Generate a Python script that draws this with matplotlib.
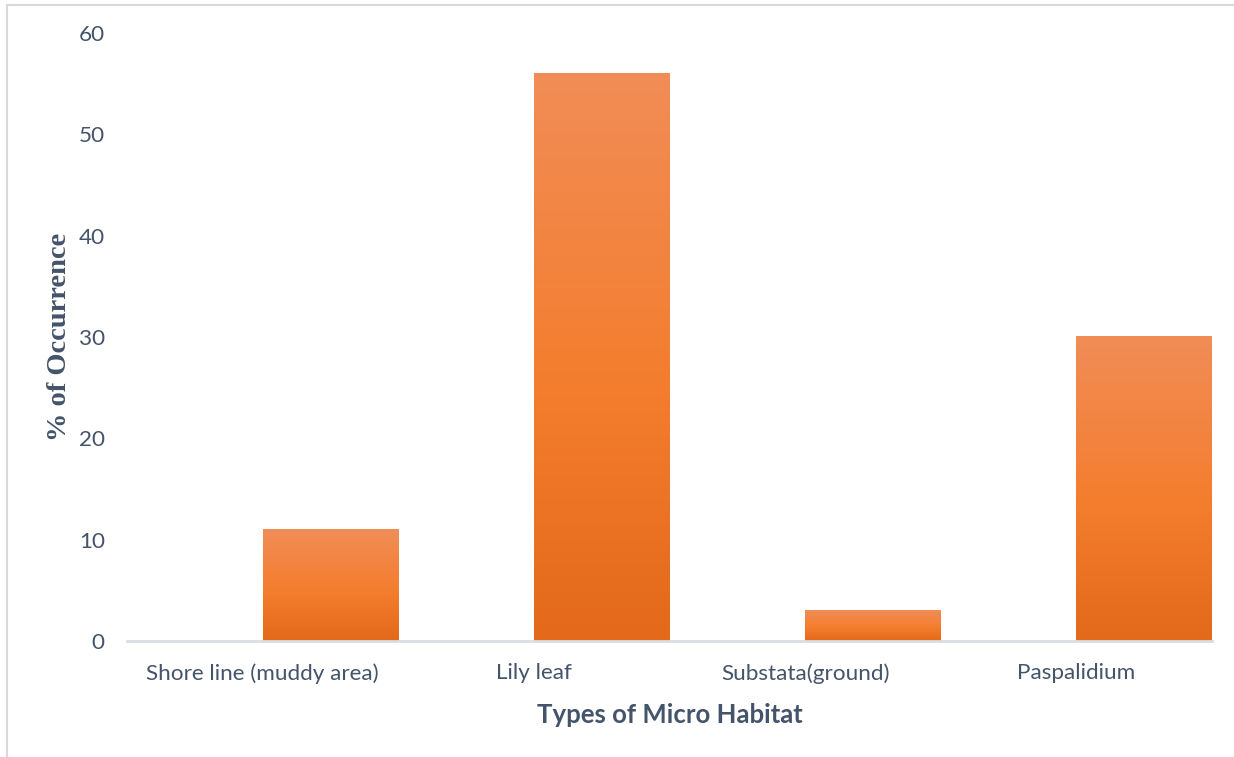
import matplotlib
matplotlib.use("Agg")
import matplotlib.pyplot as plt
import numpy as np
from matplotlib.colors import LinearSegmentedColormap
from matplotlib.lines import Line2D

habitats = ["Shore line (muddy area)", "Lily leaf", "Substata(ground)", "Paspalidium"]
occurrence = [11, 56, 3, 30]
y_ticks = [0, 10, 20, 30, 40, 50, 60]

text_color = "#44546A"
axis_color = "#D9DEE4"

# orange fill: darker at the base, lighter at the top
orange = LinearSegmentedColormap.from_list(
    "orange_grad", [(0.0, "#E4691A"), (0.45, "#F47D2E"), (1.0, "#F18D57")])

fig = plt.figure(figsize=(12.34, 7.57), dpi=100)
fig.patch.set_facecolor("white")
ax = fig.add_axes([0.1029, 0.1532, 0.8793, 0.8032])

grad = np.linspace(0, 1, 256).reshape(-1, 1)
bar_w = 0.5
for i, v in enumerate(occurrence):
    ax.imshow(grad, cmap=orange, origin="lower", aspect="auto",
              extent=[i, i + bar_w, 0, v], interpolation="bilinear", zorder=2)

ax.set_xlim(-0.5, len(habitats) - 0.5)
ax.set_ylim(0, 60)
ax.set_xticks(range(len(habitats)))
ax.set_xticklabels(habitats)
ax.set_yticks(y_ticks)

for s in ["top", "right", "left"]:
    ax.spines[s].set_visible(False)
ax.spines["bottom"].set_color(axis_color)
ax.spines["bottom"].set_linewidth(2)
ax.spines["bottom"].set_zorder(3)

ax.tick_params(axis="both", length=0, labelcolor=text_color)
ax.tick_params(axis="x", pad=16)
ax.tick_params(axis="y", pad=16)
for lab in ax.get_xticklabels() + ax.get_yticklabels():
    lab.set_fontfamily("Lato")
    lab.set_fontsize(16.2)

ax.set_xlabel("Types of Micro Habitat", fontsize=18.5, fontweight="bold",
              color=text_color, family="Lato", labelpad=14)
ax.set_ylabel("% of Occurrence", fontsize=20.5, fontweight="bold",
              color=text_color, family="Liberation Serif", labelpad=5)

# outer chart border (partly cropped)
fig.add_artist(Line2D([7 / 1234, 7 / 1234], [0, 1 - 5 / 757],
                      transform=fig.transFigure, color="#D9D9D9", lw=1.5))
fig.add_artist(Line2D([7 / 1234, 1], [1 - 5 / 757, 1 - 5 / 757],
                      transform=fig.transFigure, color="#D9D9D9", lw=1.5))

fig.savefig("out.png", dpi=100)
